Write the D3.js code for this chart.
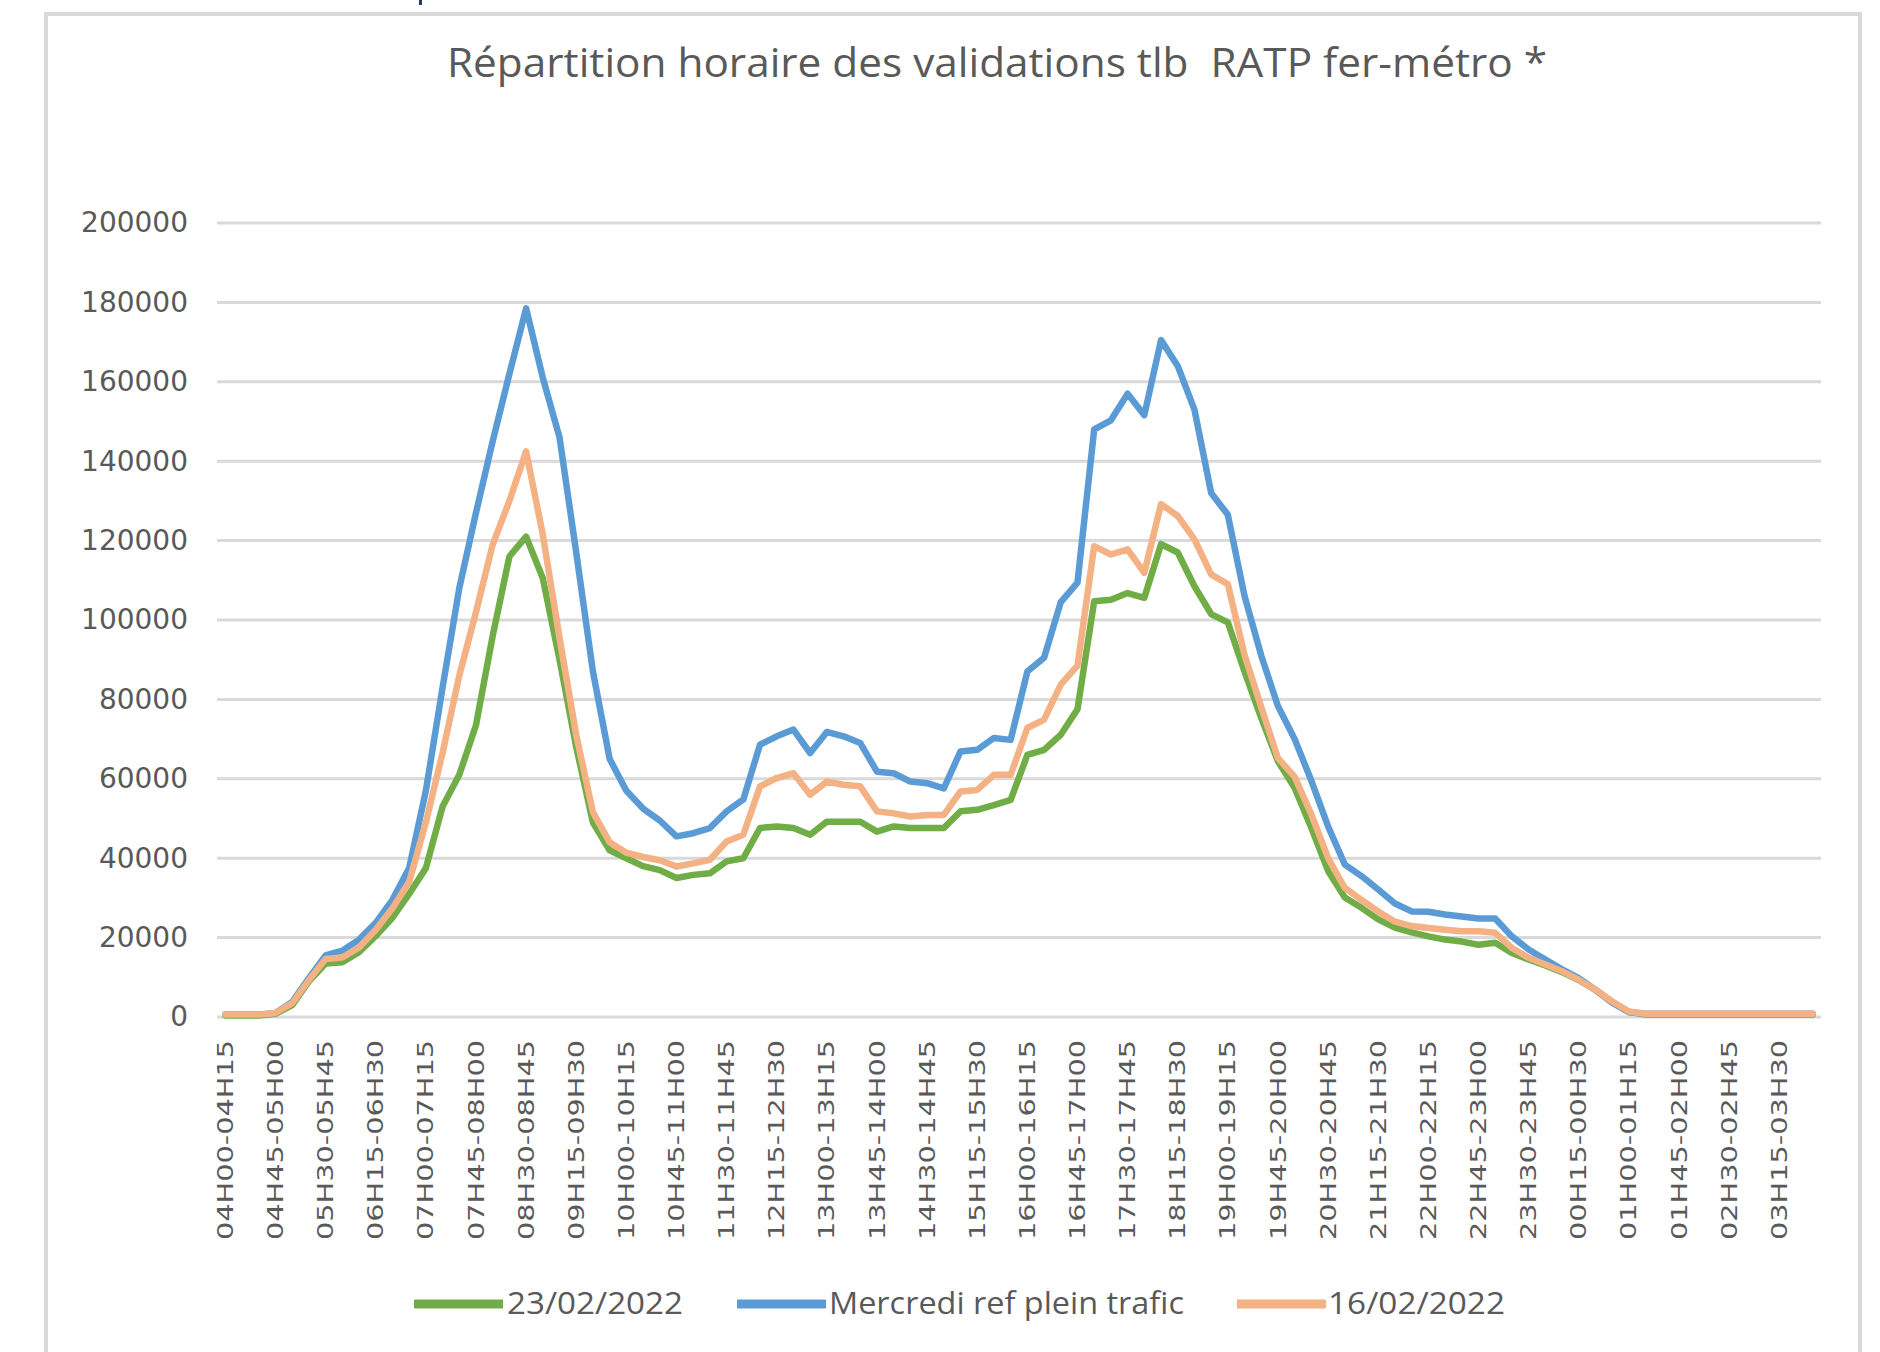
<!DOCTYPE html>
<html>
<head>
<meta charset="utf-8">
<script src="https://cdn.jsdelivr.net/npm/d3@7"></script>
<style>
  body { margin: 0; background: #fff; }
  svg { display: block; }
</style>
</head>
<body>
<svg id="chart" width="1880" height="1352"></svg>
<script>
// quarter-hour slots, 04H00 -> 03H45 next day
var categories = ("04H00-04H15 04H15-04H30 04H30-04H45 04H45-05H00 05H00-05H15 05H15-05H30 05H30-05H45 05H45-06H00 " +
  "06H00-06H15 06H15-06H30 06H30-06H45 06H45-07H00 07H00-07H15 07H15-07H30 07H30-07H45 07H45-08H00 " +
  "08H00-08H15 08H15-08H30 08H30-08H45 08H45-09H00 09H00-09H15 09H15-09H30 09H30-09H45 09H45-10H00 " +
  "10H00-10H15 10H15-10H30 10H30-10H45 10H45-11H00 11H00-11H15 11H15-11H30 11H30-11H45 11H45-12H00 " +
  "12H00-12H15 12H15-12H30 12H30-12H45 12H45-13H00 13H00-13H15 13H15-13H30 13H30-13H45 13H45-14H00 " +
  "14H00-14H15 14H15-14H30 14H30-14H45 14H45-15H00 15H00-15H15 15H15-15H30 15H30-15H45 15H45-16H00 " +
  "16H00-16H15 16H15-16H30 16H30-16H45 16H45-17H00 17H00-17H15 17H15-17H30 17H30-17H45 17H45-18H00 " +
  "18H00-18H15 18H15-18H30 18H30-18H45 18H45-19H00 19H00-19H15 19H15-19H30 19H30-19H45 19H45-20H00 " +
  "20H00-20H15 20H15-20H30 20H30-20H45 20H45-21H00 21H00-21H15 21H15-21H30 21H30-21H45 21H45-22H00 " +
  "22H00-22H15 22H15-22H30 22H30-22H45 22H45-23H00 23H00-23H15 23H15-23H30 23H30-23H45 23H45-00H00 " +
  "00H00-00H15 00H15-00H30 00H30-00H45 00H45-01H00 01H00-01H15 01H15-01H30 01H30-01H45 01H45-02H00 " +
  "02H00-02H15 02H15-02H30 02H30-02H45 02H45-03H00 03H00-03H15 03H15-03H30 03H30-03H45 03H45-04H00").split(" ");

var green2302 = [400, 400, 400, 800, 3000, 9000, 13500, 13800, 16300, 20400, 25000, 31000,
  37500, 53000, 61000, 73500, 96000, 116000, 121000, 110500, 90000, 68000, 49000, 42000,
  40000, 38000, 37000, 35000, 35800, 36200, 39200, 40000, 47600, 48000, 47600, 45900,
  49200, 49200, 49200, 46700, 48000, 47600, 47600, 47600, 51800, 52200, 53400, 54700,
  66000, 67300, 71100, 77500, 104700, 105100, 106800, 105600, 119100, 117000, 108500, 101500,
  99400, 87000, 75300, 64400, 57700, 47600, 36800, 30100, 27500, 24600, 22500, 21300,
  20300, 19500, 19000, 18200, 18700, 16100, 14500, 13000, 11300, 9300, 6800, 3800,
  1300, 600, 600, 600, 600, 600, 600, 600, 600, 600, 600, 600];

var blueRef = [600, 600, 600, 1000, 3800, 9800, 15500, 16700, 19500, 23700, 29500, 37500,
  57000, 83000, 108000, 127000, 145000, 162000, 178500, 161000, 146000, 117000, 87000, 65000,
  57000, 52500, 49500, 45500, 46300, 47600, 51800, 54800, 68600, 70700, 72400, 66500,
  71800, 70700, 69000, 61800, 61400, 59300, 58900, 57600, 66900, 67300, 70300, 69800,
  87000, 90500, 104500, 109400, 148000, 150300, 157000, 151600, 170500, 164000, 153000, 132000,
  126500, 106000, 91000, 78300, 70000, 59500, 48000, 38400, 35500, 32100, 28600, 26600,
  26500, 25800, 25300, 24800, 24800, 20300, 17000, 14500, 12000, 9800, 6900, 3600,
  1200, 800, 800, 800, 800, 800, 800, 800, 800, 800, 800, 800];

var orange1602 = [600, 600, 600, 1000, 3500, 9300, 14600, 15000, 17500, 22000, 27400, 34000,
  49000, 66500, 86000, 102000, 119000, 130000, 142500, 121500, 95500, 71000, 51600, 44000,
  41400, 40300, 39500, 37900, 38700, 39600, 44200, 45900, 58100, 60200, 61400, 56000,
  59300, 58500, 58100, 51800, 51300, 50500, 50900, 50900, 56800, 57200, 61000, 61000,
  72800, 74900, 83700, 88500, 118600, 116500, 117800, 111900, 129200, 126200, 120300, 111500,
  109000, 91200, 78000, 65200, 60500, 51000, 40000, 32500, 29500, 26600, 24000, 22900,
  22400, 22000, 21600, 21600, 21200, 17400, 14900, 13200, 11500, 9400, 6900, 3900,
  1400, 800, 800, 800, 800, 800, 800, 800, 800, 800, 800, 800];

var yTicks = [0, 20000, 40000, 60000, 80000, 100000, 120000, 140000, 160000, 180000, 200000];

var seriesNames = ["23/02/2022", "Mercredi ref plein trafic", "16/02/2022"];
var seriesColors = ["#70AD47", "#5B9BD5", "#F4B183"];
var seriesValues = [green2302, blueRef, orange1602];

var svg = d3.select("#chart");
var textColor = "#595959";

// outer chart frame
svg.append("rect")
  .attr("x", 46).attr("y", 14)
  .attr("width", 1814).attr("height", 1400)
  .attr("fill", "#fff")
  .attr("stroke", "#d9d9d9")
  .attr("stroke-width", 4);

svg.append("rect")
  .attr("x", 419).attr("y", 0)
  .attr("width", 3).attr("height", 5)
  .attr("fill", "#1f3864");

var x = d3.scaleBand().domain(categories).range([217, 1821]).paddingInner(0).paddingOuter(0);
var y = d3.scaleLinear().domain([0, 200000]).range([1017, 223]);
var cx = function(c) { return x(c) + x.bandwidth() / 2; };

// title
svg.append("text")
  .attr("x", 997).attr("y", 77)
  .attr("text-anchor", "middle")
  .style("white-space", "pre")
  .attr("font-family", "'Open Sans', sans-serif")
  .attr("font-size", 41)
  .attr("fill", textColor)
  .attr("textLength", 1100)
  .attr("lengthAdjust", "spacingAndGlyphs")
  .text("Répartition horaire des validations tlb  RATP fer-métro *");

// horizontal gridlines
svg.append("g").selectAll("line")
  .data(yTicks)
  .enter().append("line")
  .attr("x1", 217).attr("x2", 1821)
  .attr("y1", function(d) { return y(d); })
  .attr("y2", function(d) { return y(d); })
  .attr("stroke", "#d9d9d9")
  .attr("stroke-width", 3);

// y axis labels
var yAxis = svg.append("g")
  .attr("transform", "translate(188,0)")
  .call(d3.axisLeft(y).tickValues(yTicks).tickSize(0).tickPadding(0).tickFormat(d3.format("d")));
yAxis.select(".domain").remove();
yAxis.selectAll("text")
  .attr("font-family", "'DejaVu Sans', sans-serif")
  .attr("font-size", 28)
  .attr("fill", textColor);

// x axis labels, every third slot
var xAxis = svg.append("g")
  .attr("transform", "translate(0,1017)")
  .call(d3.axisBottom(x)
    .tickValues(categories.filter(function(d, i) { return i % 3 === 0; }))
    .tickSize(0));
xAxis.select(".domain").remove();
xAxis.selectAll("text")
  .attr("transform", "rotate(-90)")
  .attr("x", -23).attr("y", 0).attr("dy", "0.36em")
  .attr("text-anchor", "end")
  .attr("font-family", "'DejaVu Sans', sans-serif")
  .attr("font-size", 21)
  .attr("fill", textColor)
  .attr("textLength", 200)
  .attr("lengthAdjust", "spacingAndGlyphs");

// lines
var line = d3.line()
  .x(function(d, i) { return cx(categories[i]); })
  .y(function(d) { return y(d); });

svg.append("g").selectAll("path")
  .data(seriesValues)
  .enter().append("path")
  .attr("d", line)
  .attr("fill", "none")
  .attr("stroke", function(d, i) { return seriesColors[i]; })
  .attr("stroke-width", 6.5)
  .attr("stroke-linejoin", "round")
  .attr("stroke-linecap", "round");

// legend
var legendLines = [414, 737, 1237];
var legendText = [[507, 176], [829, 355], [1328, 177]];
var legend = svg.append("g").selectAll("g")
  .data(seriesNames)
  .enter().append("g");

legend.append("line")
  .attr("x1", function(d, i) { return legendLines[i]; })
  .attr("x2", function(d, i) { return legendLines[i] + 89; })
  .attr("y1", 1304).attr("y2", 1304)
  .attr("stroke", function(d, i) { return seriesColors[i]; })
  .attr("stroke-width", 9);

legend.append("text")
  .attr("x", function(d, i) { return legendText[i][0]; })
  .attr("y", 1314)
  .attr("font-family", "'Open Sans', sans-serif")
  .attr("font-size", 31)
  .attr("fill", textColor)
  .attr("textLength", function(d, i) { return legendText[i][1]; })
  .attr("lengthAdjust", "spacingAndGlyphs")
  .text(function(d) { return d; });
</script>
</body>
</html>
